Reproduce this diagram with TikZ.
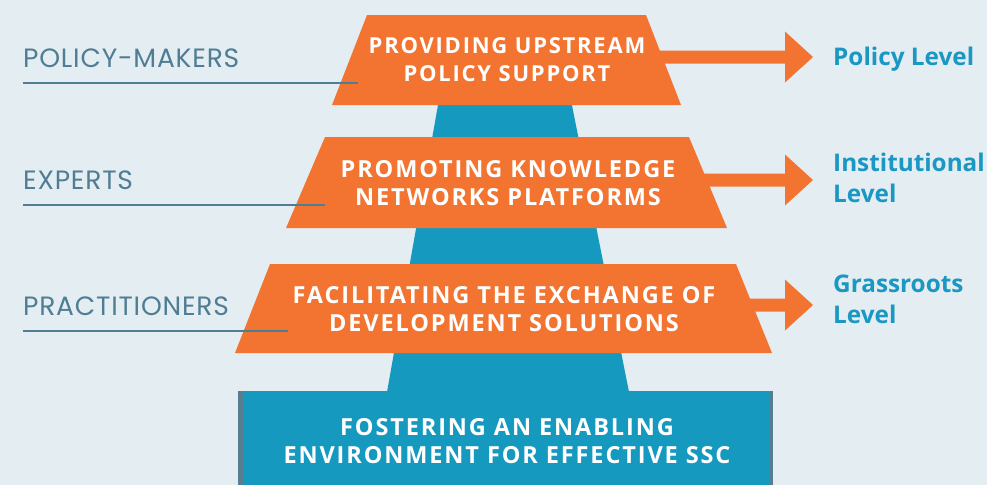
\documentclass[tikz,border=0pt]{standalone}
\usepackage{fontspec}
\setmainfont{Open Sans}
\newfontfamily\boxfont{Open Sans}[LetterSpace=8]
\newfontfamily\sidefont{Poppins}[LetterSpace=3]
\definecolor{bg}{HTML}{E4EDF2}
\definecolor{org}{HTML}{F37430}
\definecolor{blu}{HTML}{1699BF}
\definecolor{lbl}{HTML}{4F7D94}
\definecolor{lvl}{HTML}{1A97C3}
\definecolor{edgec}{HTML}{557E90}
\begin{document}
\begin{tikzpicture}[x=1pt,y=-1pt,
  boxtext/.style={text=white,font=\boxfont\bfseries\fontsize{23.5}{28}\selectfont,align=center,inner sep=0},
  side/.style={text=lbl,font=\sidefont\fontsize{26.5}{30}\selectfont,anchor=west,inner sep=0},
  uline/.style={draw=lbl,line width=2.2pt},
  level/.style={text=lvl,font=\bfseries\fontsize{24.3}{31}\selectfont,anchor=base west,inner sep=0},
  tier/.style={fill=org},
  arrowshape/.style={fill=org}
]
\useasboundingbox[fill=bg] (0,0) rectangle (987,485);
% central blue column
\fill[blu] (446,60) -- (563,60) -- (629,392) -- (387,392) -- cycle;
% foundation block
\fill[edgec] (238,391) rectangle (773,485);
\fill[blu] (243,391) rectangle (770,485);
% orange tiers
\fill[tier] (367,15) -- (646,15) -- (681,105) -- (332,105) -- cycle;
\fill[tier] (325,137) -- (689,137) -- (727,228) -- (286,228) -- cycle;
\fill[tier] (270,264) -- (736,264) -- (772,353) -- (235,353) -- cycle;
% arrows
\fill[arrowshape] (640,50.5) -- (785,50.5) -- (785,31.5) -- (813,57) -- (785,82.5) -- (785,63.5) -- (640,63.5) -- cycle;
\fill[arrowshape] (690,173.5) -- (785,173.5) -- (785,154.5) -- (813,180) -- (785,205.5) -- (785,186.5) -- (690,186.5) -- cycle;
\fill[arrowshape] (740,298.5) -- (785,298.5) -- (785,279.5) -- (813,305) -- (785,330.5) -- (785,311.5) -- (740,311.5) -- cycle;
% tier texts
\node[boxtext,font=\boxfont\bfseries\fontsize{22}{28}\selectfont] (t1) at (507,60) {PROVIDING UPSTREAM\\POLICY SUPPORT};
\node[boxtext] (t2) at (508,183) {PROMOTING KNOWLEDGE\\NETWORKS PLATFORMS};
\node[boxtext] (t3) at (504,309) {FACILITATING THE EXCHANGE OF\\DEVELOPMENT SOLUTIONS};
\node[boxtext] (t4) at (507,441) {FOSTERING AN ENABLING\\ENVIRONMENT FOR EFFECTIVE SSC};
% left labels
\node[side] (l1) at (23,58) {POLICY-MAKERS};
\node[side] (l2) at (23,180) {EXPERTS};
\node[side] (l3) at (23,306) {PRACTITIONERS};
\coordinate (u1a) at (23,83);  \coordinate (u1b) at (358,83);
\coordinate (u2a) at (23,205); \coordinate (u2b) at (325,205);
\coordinate (u3a) at (23,331); \coordinate (u3b) at (288,331);
\draw[uline] (u1a) -- (u1b);
\draw[uline] (u2a) -- (u2b);
\draw[uline] (u3a) -- (u3b);
% right labels
\node[level] (r1) at (833,65) {Policy Level};
\node[level] (r2) at (833,171) {Institutional};
\node[level] (r2b) at (833,202.5) {Level};
\node[level] (r3) at (833,292.5) {Grassroots};
\node[level] (r3b) at (833,323.5) {Level};
\end{tikzpicture}
\end{document}
